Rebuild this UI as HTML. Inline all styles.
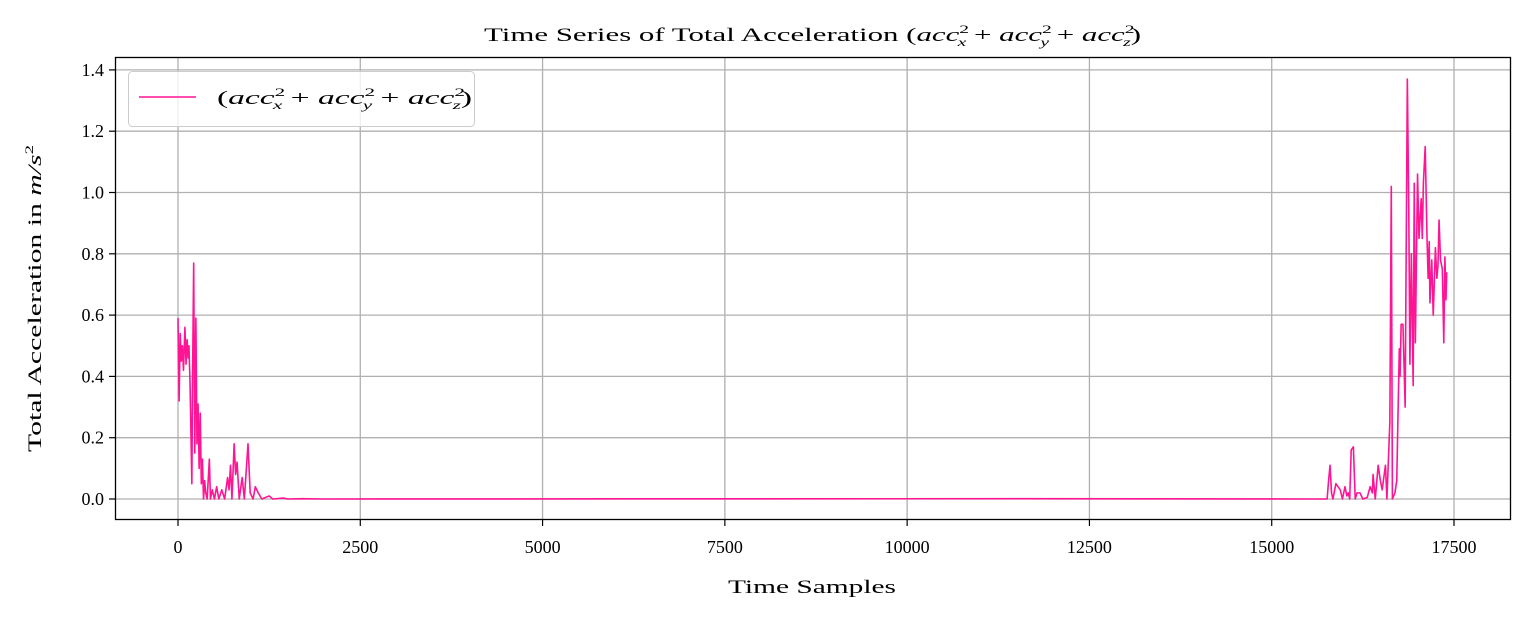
<!DOCTYPE html>
<html><head><meta charset="utf-8">
<style>
html,body{margin:0;padding:0;background:#fff;}
body{width:1530px;height:620px;overflow:hidden;font-family:"Liberation Serif",serif;}
svg text{font-family:"Liberation Serif",serif;fill:#000;}
</style></head>
<body>
<svg id="chart" width="1530" height="620" xmlns="http://www.w3.org/2000/svg">
  <text x="484" y="41" font-size="19" textLength="657" lengthAdjust="spacingAndGlyphs">Time Series of Total Acceleration (<tspan font-style="italic">acc</tspan><tspan font-size="12" dy="-8">2</tspan><tspan font-size="12" dx="-7" dy="13" font-style="italic">x</tspan><tspan dy="-5"> + </tspan><tspan font-style="italic">acc</tspan><tspan font-size="12" dy="-8">2</tspan><tspan font-size="12" dx="-7" dy="13" font-style="italic">y</tspan><tspan dy="-5"> + </tspan><tspan font-style="italic">acc</tspan><tspan font-size="12" dy="-8">2</tspan><tspan font-size="12" dx="-7" dy="13" font-style="italic">z</tspan><tspan dy="-5">)</tspan></text>
  <g id="grid"></g>
  <g id="series"></g>
  <rect x="115.5" y="57.5" width="1395" height="462" fill="none" stroke="#000" stroke-width="1.3"/>
  <g id="ticks"></g>
  <text x="728" y="593" font-size="19" textLength="168" lengthAdjust="spacingAndGlyphs">Time Samples</text>
  <text transform="translate(41,452) rotate(-90)" font-size="19" textLength="307" lengthAdjust="spacingAndGlyphs">Total Acceleration in <tspan font-style="italic">m/s</tspan><tspan font-size="12" dy="-8">2</tspan></text>
  <g>
    <rect x="128.5" y="71.5" width="346" height="55" rx="4" fill="#fff" fill-opacity="0.8" stroke="#ccc"/>
    <line x1="139" y1="97" x2="196" y2="97" stroke="#ff1493" stroke-width="1.5"/>
    <text x="217" y="104" font-size="19" textLength="255" lengthAdjust="spacingAndGlyphs">(<tspan font-style="italic">acc</tspan><tspan font-size="12" dy="-8">2</tspan><tspan font-size="12" dx="-7" dy="13" font-style="italic">x</tspan><tspan dy="-5"> + </tspan><tspan font-style="italic">acc</tspan><tspan font-size="12" dy="-8">2</tspan><tspan font-size="12" dx="-7" dy="13" font-style="italic">y</tspan><tspan dy="-5"> + </tspan><tspan font-style="italic">acc</tspan><tspan font-size="12" dy="-8">2</tspan><tspan font-size="12" dx="-7" dy="13" font-style="italic">z</tspan><tspan dy="-5">)</tspan></text>
  </g>
</svg>
<script>
const xTicks = [0,2500,5000,7500,10000,12500,15000,17500];
const yTicks = [0.0,0.2,0.4,0.6,0.8,1.0,1.2,1.4];
const yTickLabels = ["0.0","0.2","0.4","0.6","0.8","1.0","1.2","1.4"];
const samples = [0,15,30,45,60,75,95,110,125,140,150,165,190,200,215,230,245,260,275,290,305,320,335,350,365,380,400,430,445,470,500,530,560,600,640,680,700,720,740,770,790,810,840,880,910,960,990,1030,1060,1100,1150,1250,1300,1450,1500,1700,2000,11500,15500,15760,15780,15800,15820,15840,15880,15940,15970,16005,16030,16050,16070,16090,16120,16145,16170,16210,16250,16310,16350,16380,16390,16420,16460,16490,16515,16560,16580,16620,16640,16655,16690,16715,16730,16750,16760,16775,16800,16830,16860,16880,16895,16915,16940,16955,16970,17000,17020,17050,17065,17080,17105,17130,17145,17160,17170,17195,17215,17245,17265,17280,17295,17315,17340,17360,17375,17390,17400];
const values = [0.59,0.32,0.54,0.45,0.50,0.42,0.56,0.44,0.52,0.46,0.50,0.38,0.05,0.40,0.77,0.15,0.59,0.18,0.31,0.10,0.28,0.05,0.13,0.0,0.06,0.02,0.0,0.13,0.0,0.03,0.0,0.04,0.0,0.03,0.0,0.07,0.03,0.11,0.0,0.18,0.08,0.12,0.0,0.07,0.0,0.18,0.02,0.0,0.04,0.02,0.0,0.01,0.0,0.003,0.0,0.001,0.0,0.001,0.0,0.0,0.06,0.11,0.02,0.0,0.05,0.03,0.0,0.04,0.01,0.02,0.0,0.16,0.17,0.0,0.02,0.02,0.0,0.005,0.04,0.02,0.08,0.0,0.11,0.06,0.03,0.11,0.0,0.25,1.02,0.0,0.02,0.06,0.25,0.49,0.40,0.57,0.57,0.30,1.37,0.94,0.44,0.80,0.37,1.03,0.51,1.06,0.85,0.98,0.85,1.03,1.15,0.85,0.72,0.84,0.64,0.78,0.60,0.82,0.72,0.76,0.91,0.78,0.75,0.51,0.79,0.65,0.74];

const NS = "http://www.w3.org/2000/svg";
const X0 = 178, XS = 1276/17500, Y0 = 499, YS = 306.5;
function xPos(s){ return X0 + s*XS; }
function yPos(v){ return Y0 - v*YS; }
function mk(tag, attrs, parent){
  const el = document.createElementNS(NS, tag);
  for (const k in attrs) el.setAttribute(k, attrs[k]);
  parent.appendChild(el);
  return el;
}
const grid = document.getElementById('grid');
const ticks = document.getElementById('ticks');
xTicks.forEach(t => {
  const x = xPos(t);
  const g = mk('line', {x1:x, x2:x, y1:57.5, y2:519.5, stroke:'#b0b0b0', 'stroke-width':1.3}, grid);
  
  
  const tk = mk('line', {x1:x, x2:x, y1:519.5, y2:526, stroke:'#000', 'stroke-width':1.2}, ticks);
  
  
  const lb = mk('text', {x:x, y:553, 'font-size':18, 'text-anchor':'middle'}, ticks);
  lb.textContent = String(t);
  
  
});
yTicks.forEach((t, i) => {
  const y = yPos(t);
  const g = mk('line', {x1:115.5, x2:1510.5, y1:y, y2:y, stroke:'#b0b0b0', 'stroke-width':1.3}, grid);
  
  
  const tk = mk('line', {x1:109, x2:115.5, y1:y, y2:y, stroke:'#000', 'stroke-width':1.2}, ticks);
  
  
  const lb = mk('text', {x:104, y:y+6, 'font-size':18, 'text-anchor':'end'}, ticks);
  lb.textContent = yTickLabels[i];
  
  
});
const pts = samples.map((s, i) => xPos(s).toFixed(2) + ',' + yPos(values[i]).toFixed(2)).join(' ');
const line = mk('polyline', {points:pts, fill:'none', stroke:'#ff1493', 'stroke-width':1.6, 'stroke-linejoin':'round'}, document.getElementById('series'));


</script>
</body></html>
